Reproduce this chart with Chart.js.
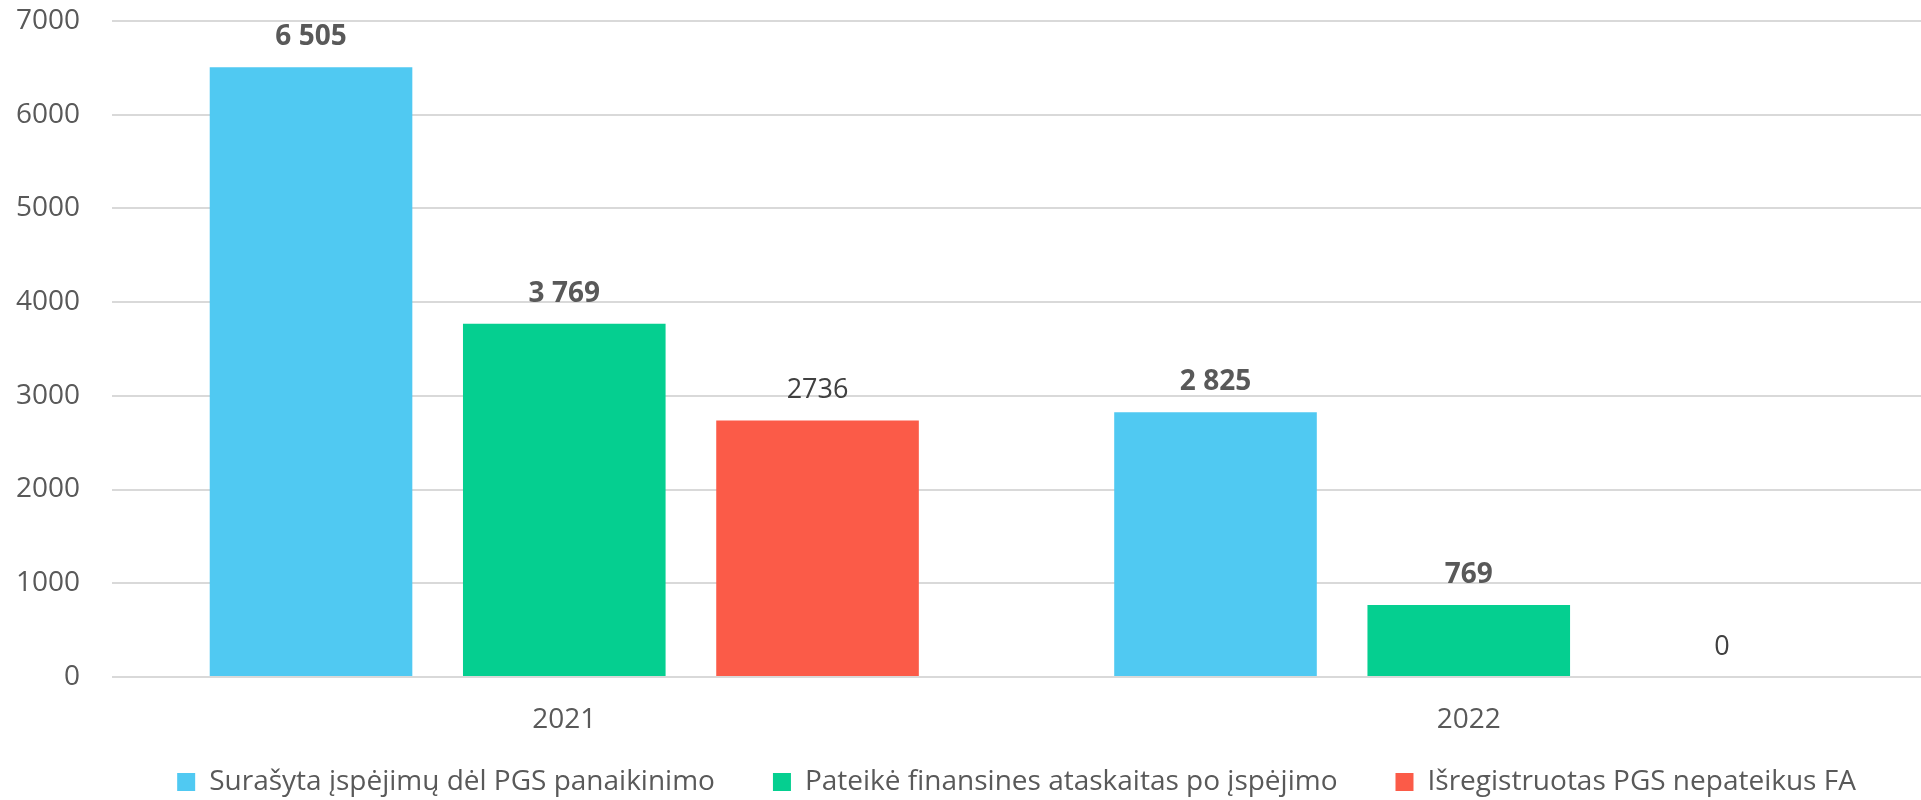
<!DOCTYPE html>
<html>
<head>
<meta charset="utf-8">
<script src="https://cdn.jsdelivr.net/npm/chart.js@4.4.0/dist/chart.umd.min.js"></script>
<style>
  html, body { margin: 0; padding: 0; background: #ffffff; }
</style>
</head>
<body>
<canvas id="pgs_chart" width="1921" height="800"></canvas>
<script>
var years = ["2021", "2022"];
var seriesNames = [
  "Surašyta įspėjimų dėl PGS panaikinimo",
  "Pateikė finansines ataskaitas po įspėjimo",
  "Išregistruotas PGS nepateikus FA"
];
var warnings = [6505, 2825];
var submitted = [3769, 769];
var deregistered = [2736, 0];
var boldLabels = [true, true, false];
var yTicks = [0, 1000, 2000, 3000, 4000, 5000, 6000, 7000];

var colors = ["#50C9F2", "#05CF90", "#FB5B48"];
var fontName = "'Open Sans', sans-serif";

function spaced(n) {
  return String(n).replace(/\B(?=(\d{3})+(?!\d))/g, " ");
}

// draws the value above every bar
var valueLabels = {
  id: 'valueLabels',
  afterDatasetsDraw: function(chart) {
    var ctx = chart.ctx;
    ctx.save();
    ctx.textAlign = 'center';
    ctx.textBaseline = 'middle';
    chart.data.datasets.forEach(function(ds, i) {
      var meta = chart.getDatasetMeta(i);
      meta.data.forEach(function(bar, j) {
        var v = ds.data[j];
        if (boldLabels[i]) {
          ctx.font = "bold 28px " + fontName;
          ctx.fillStyle = "#595959";
          ctx.fillText(spaced(v), bar.x, bar.y - 30);
        } else {
          ctx.font = "27px " + fontName;
          ctx.fillStyle = "#404040";
          ctx.fillText(String(v), bar.x, bar.y - 30);
        }
      });
    });
    ctx.restore();
  }
};

// legend text sits a bit higher, into the empty part of the x axis box
var legendShift = {
  id: 'legendShift',
  afterLayout: function(chart) {
    chart.legend.top -= 27;
  }
};

var ctx = document.getElementById("pgs_chart").getContext('2d');
var pgs_chart = new Chart(ctx, {
  type: 'bar',
  data: {
    labels: years,
    datasets: [
      { label: seriesNames[0], data: warnings, backgroundColor: colors[0] },
      { label: seriesNames[1], data: submitted, backgroundColor: colors[1] },
      { label: seriesNames[2], data: deregistered, backgroundColor: colors[2] }
    ]
  },
  options: {
    responsive: false,
    animation: false,
    devicePixelRatio: 1,
    // plot area runs a little past the right edge, like the cropped original
    layout: { padding: { top: 0, right: -17, left: 12, bottom: 0 } },
    datasets: { bar: { categoryPercentage: 0.84, barPercentage: 0.8 } },
    scales: {
      x: {
        grid: { display: false, drawTicks: false },
        border: { display: false },
        ticks: { color: "#595959", font: { family: fontName, size: 28 }, padding: 26 },
        afterFit: function(axis) { axis.height = 60; }
      },
      y: {
        min: 0,
        max: 7000,
        afterBuildTicks: function(axis) {
          axis.ticks = yTicks.map(function(v) { return { value: v }; });
        },
        grid: { color: "#d9d9d9", lineWidth: 2, drawTicks: true, tickLength: 28, tickColor: 'rgba(0,0,0,0)' },
        border: { display: false },
        ticks: {
          color: "#595959",
          font: { family: fontName, size: 28 },
          padding: 4,
          callback: function(v) { return String(v); }
        }
      }
    },
    plugins: {
      tooltip: { enabled: false },
      legend: {
        position: 'bottom',
        fullSize: false,
        maxHeight: 63,
        labels: {
          color: "#595959",
          font: { family: fontName, size: 28 },
          boxWidth: 18,
          boxHeight: 18,
          padding: 58
        }
      }
    }
  },
  plugins: [valueLabels, legendShift]
});
</script>
</body>
</html>
